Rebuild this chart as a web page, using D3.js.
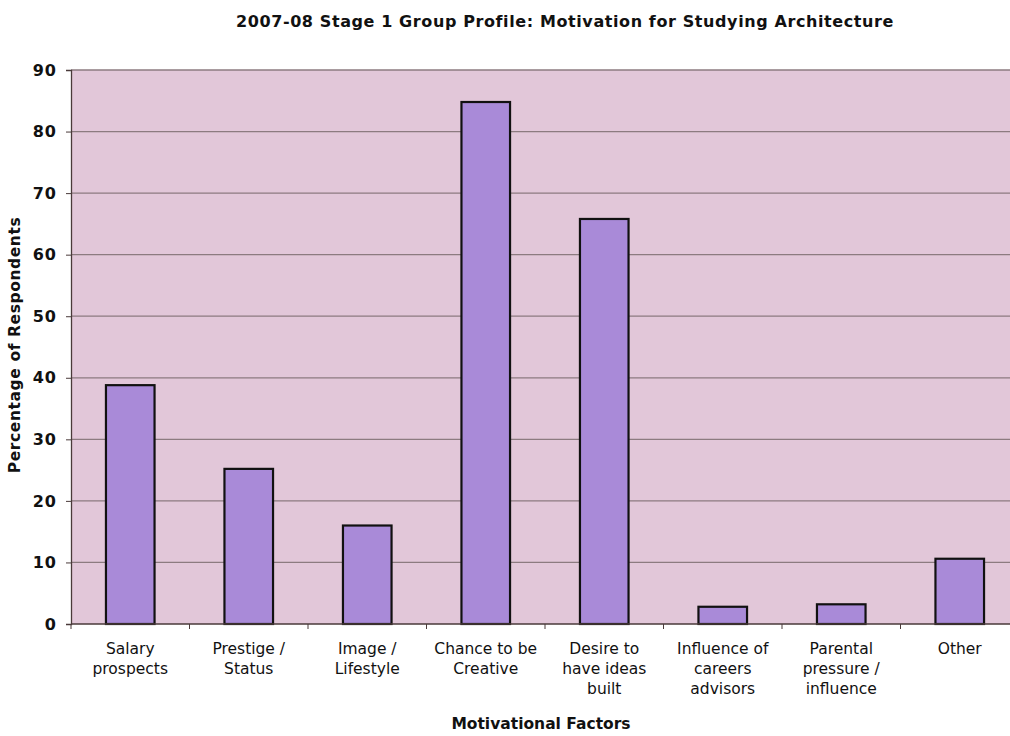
<!DOCTYPE html>
<html>
<head>
<meta charset="utf-8">
<script src="https://d3js.org/d3.v7.min.js"></script>
<style>
  body { margin: 0; background: #fff; }
  svg { display: block; }
  text { font-family: "DejaVu Sans", Verdana, sans-serif; fill: #111; }
</style>
</head>
<body>
<svg width="1010" height="736"></svg>
<script>
var categories = [
  ["Salary", "prospects"],
  ["Prestige /", "Status"],
  ["Image /", "Lifestyle"],
  ["Chance to be", "Creative"],
  ["Desire to", "have ideas", "built"],
  ["Influence of", "careers", "advisors"],
  ["Parental", "pressure /", "influence"],
  ["Other"]
];
var values = [38.8, 25.2, 16, 84.8, 65.8, 2.8, 3.2, 10.6];
var yTicks = [0, 10, 20, 30, 40, 50, 60, 70, 80, 90];

var svg = d3.select("svg"),
    width = +svg.attr("width"),
    height = +svg.attr("height");

// plot box (right side runs past the page edge like the scan)
var plotL = 71, plotR = 1019, plotT = 70, plotB = 624;

var x = d3.scaleBand()
    .domain(d3.range(categories.length))
    .range([plotL, plotR])
    .paddingInner(0.59)
    .paddingOuter(0.295);

var y = d3.scaleLinear()
    .domain([0, 90])
    .range([plotB, plotT]);

// plot background
svg.append("rect")
    .attr("x", plotL)
    .attr("y", plotT)
    .attr("width", plotR - plotL)
    .attr("height", plotB - plotT)
    .attr("fill", "#e2c7d9");

// gridlines
svg.append("g")
    .selectAll("line")
    .data(yTicks.slice(1))
    .enter().append("line")
      .attr("x1", plotL)
      .attr("x2", plotR)
      .attr("y1", function(d) { return y(d); })
      .attr("y2", function(d) { return y(d); })
      .attr("stroke", "#8c7b80")
      .attr("stroke-width", 1.3);

// bars
svg.append("g")
    .selectAll("rect")
    .data(values)
    .enter().append("rect")
      .attr("x", function(d, i) { return x(i); })
      .attr("y", function(d) { return y(d); })
      .attr("width", x.bandwidth())
      .attr("height", function(d) { return y(0) - y(d); })
      .attr("fill", "#a98ad8")
      .attr("stroke", "#111")
      .attr("stroke-width", 2.2);

// y axis
var yAxis = svg.append("g")
    .attr("transform", "translate(" + plotL + ",0)")
    .call(d3.axisLeft(y).tickValues(yTicks).tickSize(5).tickPadding(9));
yAxis.select(".domain").attr("stroke", "#4a3a3a").attr("stroke-width", 1.3);
yAxis.selectAll(".tick line").attr("stroke", "#4a3a3a");
yAxis.selectAll("text")
    .attr("font-size", "16px")
    .attr("font-weight", "bold")
    .attr("letter-spacing", "1px")
    .attr("font-family", "DejaVu Sans, sans-serif")
    .attr("fill", "#111");

// x axis line and ticks at category boundaries
var step = x.step();
var bounds = d3.range(categories.length + 1).map(function(i) { return plotL + i * step; });
svg.append("line")
    .attr("x1", plotL).attr("x2", plotR)
    .attr("y1", plotB).attr("y2", plotB)
    .attr("stroke", "#4a3a3a").attr("stroke-width", 1.3);
svg.append("g")
    .selectAll("line")
    .data(bounds)
    .enter().append("line")
      .attr("x1", function(d) { return d; })
      .attr("x2", function(d) { return d; })
      .attr("y1", plotB)
      .attr("y2", plotB + 5)
      .attr("stroke", "#4a3a3a");

// category labels
var labels = svg.append("g")
    .selectAll("text")
    .data(categories)
    .enter().append("text")
      .attr("x", function(d, i) { return x(i) + x.bandwidth() / 2; })
      .attr("y", 654)
      .attr("text-anchor", "middle")
      .attr("font-size", "15.5px");
labels.selectAll("tspan")
    .data(function(d) { return d; })
    .enter().append("tspan")
      .attr("x", function() { return d3.select(this.parentNode).attr("x"); })
      .attr("dy", function(d, i) { return i === 0 ? 0 : 20; })
      .text(function(d) { return d; });

// title
svg.append("text")
    .attr("x", 565)
    .attr("y", 27)
    .attr("text-anchor", "middle")
    .attr("font-size", "16px")
    .attr("font-weight", "bold")
    .attr("letter-spacing", "0.6px")
    .text("2007-08 Stage 1 Group Profile: Motivation for Studying Architecture");

// axis titles
svg.append("text")
    .attr("x", 541)
    .attr("y", 729)
    .attr("text-anchor", "middle")
    .attr("font-size", "15.5px")
    .attr("font-weight", "bold")
    .text("Motivational Factors");

svg.append("text")
    .attr("transform", "translate(20,345) rotate(-90)")
    .attr("text-anchor", "middle")
    .attr("font-size", "15.5px")
    .attr("font-weight", "bold")
    .attr("letter-spacing", "0.6px")
    .text("Percentage of Respondents");
</script>
</body>
</html>
